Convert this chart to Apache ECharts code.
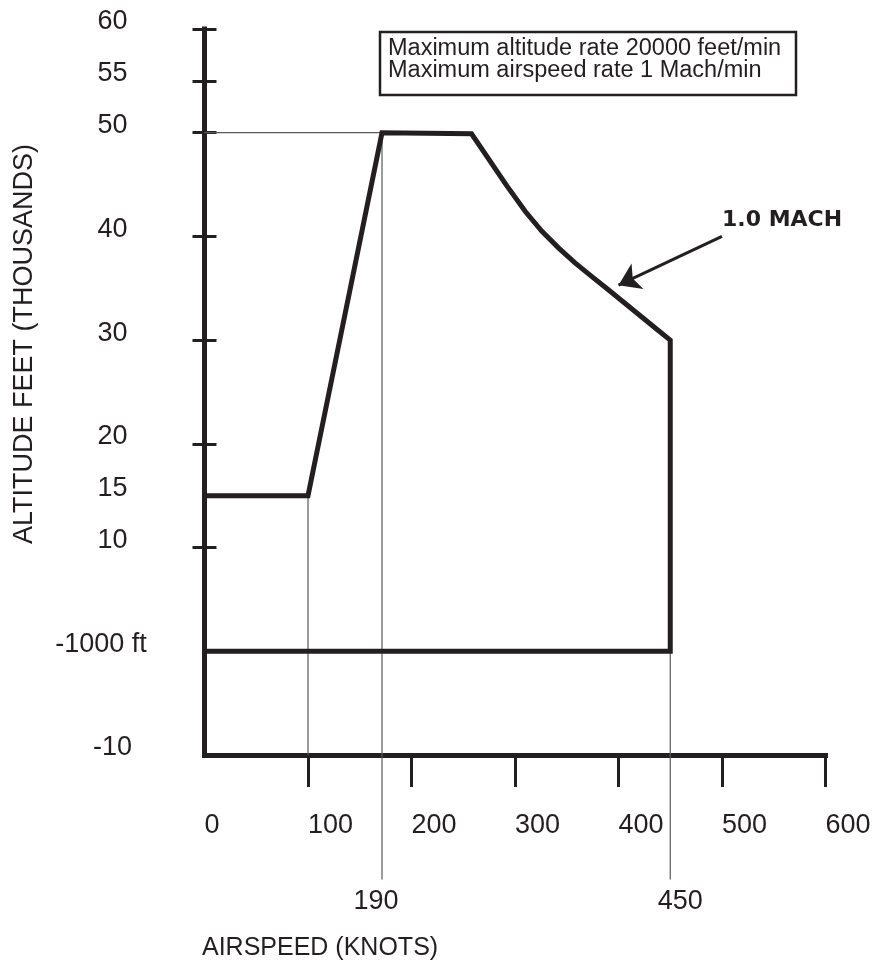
<!DOCTYPE html>
<html>
<head>
<meta charset="utf-8">
<script src="https://cdn.jsdelivr.net/npm/echarts@6/dist/echarts.min.js"></script>
<style>
  html, body { margin: 0; padding: 0; background: #fff; }
  #chart { width: 880px; height: 965px; }
</style>
</head>
<body>
<div id="chart"></div>
<script>
  // axis ticks / labels
  const xLabels = [0, 100, 200, 300, 400, 500, 600]
  const xTickMarks = [100, 200, 300, 400, 500, 600]
  const yLabelValues = [-10, 0, 10, 15, 20, 30, 40, 50, 55, 60]
  const yLabelText = ['-10', '-1000 ft', '10', '15', '20', '30', '40', '50', '55', '60']
  const yTickMarks = [10, 20, 30, 40, 50, 55, 60]

  // flight envelope outline: airspeed (knots) / altitude (thousands ft)
  const envSpeed = [0, 100, 171.5, 258, 292, 310, 326, 342, 358, 374, 389, 405, 421, 437, 450, 450, 0]
  const envAlt = [15, 15, 50, 49.9, 44.9, 42.4, 40.5, 38.9, 37.45, 36.15, 34.95, 33.65, 32.35, 31.05, 30, 0, 0]

  // thin guide lines and their labels
  const guides = [
    [[0, 50], [171.5, 50]],
    [[100, 15], [100, -10]],
    [[171.5, 50], [171.5, -22]],
    [[450, 30], [450, -22]],
  ]
  const guideText = [null, null, '190', '450']

  // arrow pointing at the 1.0 Mach curve
  const machArrow = [[500, 40], [400, 35.3]]

  const ink = '#231f20'
  const font = "'Liberation Sans', Arial, sans-serif"

  const chart = echarts.init(document.getElementById('chart'))
  chart.setOption({
    animation: false,
    grid: { left: 204.5, right: 54.5, top: 29, bottom: 210, outerBoundsMode: 'none' },
    xAxis: {
      type: 'value',
      min: 0,
      max: 600,
      axisLine: { onZero: false, lineStyle: { color: ink, width: 5, cap: 'square' } },
      axisTick: { show: true, customValues: xTickMarks, length: 32, lineStyle: { color: ink, width: 3 } },
      axisLabel: { customValues: xLabels, align: 'left', margin: 57, color: ink, fontSize: 27, fontFamily: font },
      splitLine: { show: false },
    },
    yAxis: [
      {
        type: 'value',
        min: -10,
        max: 60,
        position: 'left',
        axisLine: { show: true, onZero: false, lineStyle: { color: ink, width: 5, cap: 'square' } },
        axisTick: { show: true, customValues: yTickMarks, length: 12, lineStyle: { color: ink, width: 3 } },
        axisLabel: {
          customValues: yLabelValues,
          formatter: v => {
            const t = yLabelText[yLabelValues.indexOf(v)]
            return v === 0 ? '{wide|' + t + '}' : t
          },
          align: 'center',
          margin: 92,
          padding: [0, 0, 14, 0],
          color: ink,
          fontSize: 27,
          fontFamily: font,
          rich: {
            wide: { padding: [0, 23, 0, 0], fontSize: 27, fontFamily: font, color: ink },
          },
        },
        splitLine: { show: false },
      },
      {
        // second copy only for the inner half of the ticks
        type: 'value',
        min: -10,
        max: 60,
        position: 'left',
        axisLine: { show: false, onZero: false },
        axisTick: { show: true, inside: true, customValues: yTickMarks, length: 12, lineStyle: { color: ink, width: 3 } },
        axisLabel: { show: false },
        splitLine: { show: false },
      },
    ],
    series: [
      ...guides.map((seg, i) => ({
        type: 'line',
        clip: false,
        silent: true,
        z: 1,
        symbol: 'circle',
        symbolSize: 1,
        itemStyle: { color: 'rgba(0,0,0,0)' },
        lineStyle: { color: '#58595b', width: 1.2 },
        data: [
          seg[0],
          {
            value: seg[1],
            label: {
              show: guideText[i] != null,
              formatter: guideText[i] || '',
              position: 'bottom',
              distance: 8,
              offset: [i === 2 ? -6 : 10, 0],
              color: ink,
              fontSize: 27,
              fontFamily: font,
            },
          },
        ],
      })),
      {
        type: 'line',
        clip: false,
        silent: true,
        z: 3,
        symbol: 'none',
        lineStyle: { color: ink, width: 5, join: 'miter' },
        data: envSpeed.map((x, i) => [x, envAlt[i]]),
        markLine: {
          silent: true,
          animation: false,
          symbol: ['none', 'arrow'],
          symbolSize: 21,
          label: { show: false },
          lineStyle: { color: ink, width: 3, type: 'solid' },
          data: [[{ coord: machArrow[0] }, { coord: machArrow[1] }]],
        },
      },
    ],
    graphic: [
      {
        type: 'text',
        x: 25,
        y: 344,
        rotation: Math.PI / 2,
        style: { text: 'ALTITUDE FEET (THOUSANDS)', fontSize: 27, fontFamily: font, fill: ink, align: 'center', verticalAlign: 'middle' },
      },
      {
        type: 'text',
        x: 202,
        y: 948,
        style: { text: 'AIRSPEED (KNOTS)', fontSize: 25, fontFamily: font, fill: ink, align: 'left', verticalAlign: 'middle' },
      },
      {
        type: 'rect',
        shape: { x: 380, y: 32, width: 416, height: 63 },
        style: { fill: '#fff', stroke: ink, lineWidth: 2.5 },
      },
      {
        type: 'text',
        x: 388,
        y: 49,
        style: { text: 'Maximum altitude rate 20000 feet/min', fontSize: 23.5, fontFamily: font, fill: ink, align: 'left', verticalAlign: 'middle' },
      },
      {
        type: 'text',
        x: 388,
        y: 71,
        style: { text: 'Maximum airspeed rate 1 Mach/min', fontSize: 23.5, fontFamily: font, fill: ink, align: 'left', verticalAlign: 'middle' },
      },
      {
        type: 'text',
        x: 722,
        y: 220,
        style: { text: '1.0 MACH', fontSize: 22, fontWeight: 'bold', fontFamily: "'DejaVu Sans', sans-serif", fill: ink, align: 'left', verticalAlign: 'middle' },
      },
    ],
  })
</script>
</body>
</html>
